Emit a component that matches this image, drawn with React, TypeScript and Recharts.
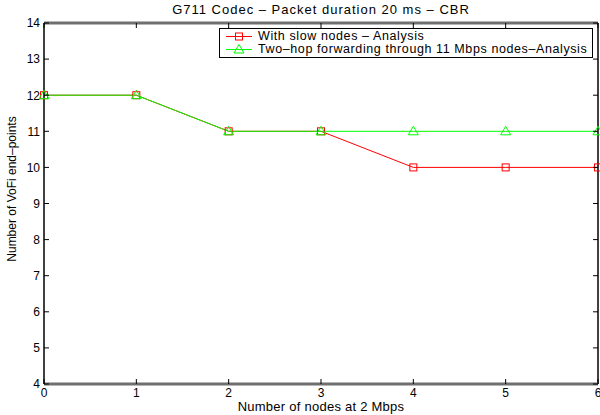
import { LineChart, Line, XAxis, YAxis, ReferenceLine } from 'recharts';

const nodes = [0, 1, 2, 3, 4, 5, 6];
const slowNodes = [12, 12, 11, 11, 10, 10, 10];
const twoHop = [12, 12, 11, 11, 11, 11, 11];
const xTicks = [0, 1, 2, 3, 4, 5, 6];
const yTicks = [4, 5, 6, 7, 8, 9, 10, 11, 12, 13, 14];

const seriesNames = ['With slow nodes \u2013 Analysis', 'Two\u2013hop forwarding through 11 Mbps nodes\u2013Analysis'];
const title = 'G711 Codec \u2013 Packet duration 20 ms \u2013 CBR';
const xLabel = 'Number of nodes at 2 Mbps';
const yLabel = 'Number of VoFi end\u2013points';

const data = nodes.map((n, i) => ({ n, slow: slowNodes[i], hop: twoHop[i] }));

// plot frame (matches margins + axis sizes below)
const PLOT_L = 44;
const PLOT_R = 598;
const PLOT_T = 23;
const PLOT_B = 384;
const FONT = '"Liberation Sans", Arial, sans-serif';
const RED = '#ff0000';
const GREEN = '#00ff00';

function YTick({ y, payload }: any) {
  return (
    <g>
      <line x1={PLOT_L} x2={PLOT_L + 5} y1={y} y2={y} stroke="#000" />
      <line x1={PLOT_R - 5} x2={PLOT_R} y1={y} y2={y} stroke="#000" />
      <text x={PLOT_L - 4} y={y} dy="0.36em" textAnchor="end" fontSize={12} fontFamily={FONT} fill="#000">
        {payload.value}
      </text>
    </g>
  );
}

function XTick({ x, payload }: any) {
  return (
    <g>
      <line x1={x} x2={x} y1={PLOT_B} y2={PLOT_B - 5} stroke="#000" />
      <line x1={x} x2={x} y1={PLOT_T} y2={PLOT_T + 5} stroke="#000" />
      <text x={x} y={397} textAnchor="middle" fontSize={12} fontFamily={FONT} fill="#000">
        {payload.value}
      </text>
    </g>
  );
}

function SquareDot({ cx, cy }: any) {
  return <rect x={cx - 3.5} y={cy - 3.5} width={7} height={7} fill="none" stroke={RED} strokeWidth={1} />;
}

function TriangleDot({ cx, cy }: any) {
  return (
    <polygon
      points={`${cx},${cy - 5} ${cx - 5},${cy + 3.5} ${cx + 5},${cy + 3.5}`}
      fill="none"
      stroke={GREEN}
      strokeWidth={1}
    />
  );
}

function LegendBox() {
  const rows = [
    { name: seriesNames[0], color: RED, marker: 'square' },
    { name: seriesNames[1], color: GREEN, marker: 'triangle' },
  ];
  return (
    <div
      style={{
        position: 'absolute',
        left: 219,
        top: 28,
        border: '1.5px solid #000',
        background: '#fff',
        width: 374,
        height: 30,
        boxSizing: 'border-box',
        padding: '0.5px 0 0 4px',
        fontFamily: FONT,
        fontSize: 12.5,
        letterSpacing: 0.6,
        lineHeight: '13.5px',
      }}
    >
      {rows.map((r) => (
        <div key={r.name} style={{ display: 'flex', alignItems: 'center', height: 13.5 }}>
          <svg width={34} height={13} style={{ flex: 'none' }}>
            <line x1={2} x2={28} y1={6.5} y2={6.5} stroke={r.color} />
            {r.marker === 'square' ? (
              <rect x={11.5} y={3} width={7} height={7} fill="none" stroke={r.color} />
            ) : (
              <polygon points="15,1.5 10,10 20,10" fill="none" stroke={r.color} />
            )}
          </svg>
          <span style={{ whiteSpace: 'nowrap' }}>{r.name}</span>
        </div>
      ))}
    </div>
  );
}

export default function App() {
  return (
    <div style={{ position: 'absolute', left: 0, top: 0, width: 600, height: 415, background: '#fff', fontFamily: FONT }}>
      <LineChart
        width={600}
        height={415}
        data={data}
        margin={{ top: PLOT_T, right: 600 - PLOT_R, left: 0, bottom: 0 }}
        style={{ position: 'absolute', left: 0, top: 0 }}
      >
        <XAxis
          dataKey="n"
          type="number"
          domain={[0, 6]}
          ticks={xTicks}
          height={415 - PLOT_B}
          tick={<XTick />}
          tickLine={false}
          axisLine={{ stroke: '#6f6f6f', strokeWidth: 3 }}
          interval={0}
        />
        <YAxis
          type="number"
          domain={[4, 14]}
          ticks={yTicks}
          width={PLOT_L}
          tick={<YTick />}
          tickLine={false}
          axisLine={{ stroke: '#000', strokeWidth: 1.5 }}
          interval={0}
        />
        <ReferenceLine y={14} stroke="#6f6f6f" strokeWidth={3} />
        <ReferenceLine x={6} stroke="#000" strokeWidth={1.5} />
        <Line
          dataKey="slow"
          name={seriesNames[0]}
          stroke={RED}
          strokeWidth={1}
          dot={<SquareDot />}
          activeDot={false}
          isAnimationActive={false}
        />
        <Line
          dataKey="hop"
          name={seriesNames[1]}
          stroke={GREEN}
          strokeWidth={1}
          dot={<TriangleDot />}
          activeDot={false}
          isAnimationActive={false}
        />
      </LineChart>
      <div
        style={{
          position: 'absolute',
          left: PLOT_L,
          width: PLOT_R - PLOT_L,
          top: 3,
          textAlign: 'center',
          fontSize: 13,
          lineHeight: '14px',
          letterSpacing: 1,
          whiteSpace: 'nowrap',
        }}
      >
        {title}
      </div>
      <div
        style={{
          position: 'absolute',
          left: PLOT_L,
          width: PLOT_R - PLOT_L,
          top: 400,
          textAlign: 'center',
          fontSize: 13,
          lineHeight: '13px',
          letterSpacing: 0.25,
          whiteSpace: 'nowrap',
        }}
      >
        {xLabel}
      </div>
      <div
        style={{
          position: 'absolute',
          left: 12,
          top: 189,
          transform: 'translate(-50%, -50%) rotate(-90deg)',
          fontSize: 12,
          lineHeight: '12px',
          whiteSpace: 'nowrap',
        }}
      >
        {yLabel}
      </div>
      <LegendBox />
    </div>
  );
}
